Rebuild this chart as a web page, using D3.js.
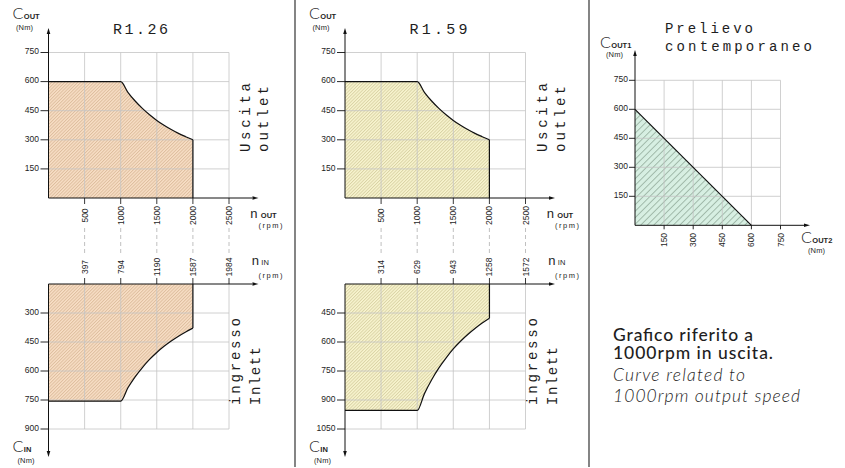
<!DOCTYPE html>
<html lang="it">
<head>
<meta charset="UTF-8">
<title>Curve R1.26 / R1.59</title>
<script src="https://cdn.jsdelivr.net/npm/d3@7/dist/d3.min.js"></script>
<style>
	body {margin: 0; background: #fff;}
	svg text {fill: #1e1e1e;}
	.cad {font-family: 'Liberation Mono', monospace;}
	.num {font-family: 'Liberation Sans', Arial, sans-serif; font-size: 8.5px;}
	.lab {font-family: 'Liberation Sans', Arial, sans-serif;}
	.big {font-family: Lato, 'Open Sans', sans-serif;}
	.note {font-family: Lato, 'Open Sans', sans-serif; font-size: 17.5px;}
</style>
</head>
<body>
<script>
	//----dati----
	var ratioLabels = ['R1.26', 'R1.59'];
	var outSpeedTicks = [500, 1000, 1500, 2000, 2500];
	var outTorqueTicks = [150, 300, 450, 600, 750];
	var inSpeedTicksA = [397, 794, 1190, 1587, 1984];
	var inSpeedTicksB = [314, 629, 943, 1258, 1572];
	var inTorqueTicksA = [300, 450, 600, 750, 900];
	var inTorqueTicksB = [450, 600, 750, 900, 1050];

	// curva in uscita (uguale per i due rapporti)
	var outSpeed = [0, 1000, 1100, 1200, 1300, 1400, 1500, 1600, 1700, 1800, 1900, 2000];
	var outTorque = [600, 600, 545, 500, 462, 429, 400, 375, 353, 333, 316, 300];
	// curve in ingresso
	var inSpeedA = [0, 794, 873, 952, 1032, 1111, 1190, 1270, 1349, 1429, 1508, 1587];
	var inTorqueA = [756, 756, 687, 630, 582, 540, 504, 472, 445, 420, 398, 378];
	var inSpeedB = [0, 629, 692, 755, 818, 881, 943, 1006, 1069, 1132, 1195, 1258];
	var inTorqueB = [954, 954, 867, 795, 734, 682, 636, 596, 561, 530, 502, 477];

	// prelievo contemporaneo
	var simTicks = [150, 300, 450, 600, 750];
	var simOut2 = [0, 600];
	var simOut1 = [600, 0];

	var svg = d3.select('body').append('svg')
		.attr('width', 845)
		.attr('height', 468);

	var defs = svg.append('defs');
	function hatch(id, bg, col, p, w) {
		var pat = defs.append('pattern')
			.attr('id', id)
			.attr('patternUnits', 'userSpaceOnUse')
			.attr('width', p).attr('height', p)
			.attr('patternTransform', 'rotate(45)');
		pat.append('rect').attr('width', p).attr('height', p).attr('fill', bg);
		pat.append('line')
			.attr('x1', 0.5).attr('y1', 0).attr('x2', 0.5).attr('y2', p)
			.attr('stroke', col).attr('stroke-width', w);
	}
	hatch('hOr', '#f8dfc6', '#dbba99', 2.3, 0.85);
	hatch('hYe', '#f9f5d0', '#d6cf9f', 2.3, 0.85);
	hatch('hGr', '#d7efe2', '#93ad9c', 4.6, 0.8);

	var GRID = '#c4c4c4';

	//----separatori----
	[295, 589].forEach(function (sx) {
		svg.append('line')
			.attr('x1', sx).attr('x2', sx).attr('y1', 0).attr('y2', 467)
			.attr('stroke', '#333').attr('stroke-width', 1.2);
	});

	function arrowUp(g, x, tip) {
		g.append('path').attr('d', 'M' + x + ',' + tip + 'L' + (x - 1.8) + ',' + (tip + 6) + 'L' + (x + 1.8) + ',' + (tip + 6) + 'Z').attr('fill', '#111');
	}
	function arrowDown(g, x, tip) {
		g.append('path').attr('d', 'M' + x + ',' + tip + 'L' + (x - 1.8) + ',' + (tip - 6) + 'L' + (x + 1.8) + ',' + (tip - 6) + 'Z').attr('fill', '#111');
	}
	function arrowRight(g, tip, y) {
		g.append('path').attr('d', 'M' + tip + ',' + y + 'L' + (tip - 6) + ',' + (y - 1.8) + 'L' + (tip - 6) + ',' + (y + 1.8) + 'Z').attr('fill', '#111');
	}
	function line(g, x1, y1, x2, y2, col, w) {
		return g.append('line')
			.attr('x1', x1).attr('y1', y1).attr('x2', x2).attr('y2', y2)
			.attr('stroke', col).attr('stroke-width', w || 1);
	}
	function symbol(g, x, y, main, sub) {
		var t = g.append('text').attr('x', x).attr('y', y);
		t.append('tspan').attr('class', 'big').attr('font-size', 16).attr('font-weight', 300).text(main);
		t.append('tspan').attr('class', 'lab').attr('font-size', 7.5).attr('font-weight', 'bold').attr('dx', 0.5).text(sub);
	}
	function small(g, x, y, str, len) {
		g.append('text').attr('class', 'lab').attr('x', x).attr('y', y)
			.attr('font-size', 7.5).attr('textLength', len).attr('lengthAdjust', 'spacing').text(str);
	}
	function vtext(g, x, y, str, len) {
		g.append('text').attr('class', 'cad')
			.attr('transform', 'translate(' + x + ',' + y + ') rotate(-90)')
			.attr('font-size', 14)
			.attr('textLength', len).attr('lengthAdjust', 'spacing')
			.text(str);
	}

	//----pannello rapporto----
	function panel(cfg) {
		var g = svg.append('g');
		var x0 = cfg.x0;
		var x = d3.scaleLinear().domain([0, 2500]).range([x0, x0 + 180.5]);
		var y = d3.scaleLinear().domain([0, 750]).range([198, 52.5]);
		var xi = d3.scaleLinear().domain([0, d3.max(cfg.inTicks)]).range(x.range());
		var yi = d3.scaleLinear()
			.domain([cfg.inTorqueTicks[0] - 150, d3.max(cfg.inTorqueTicks)])
			.range([284, 429]);

		var outPts = outSpeed.map(function (d, i) { return [d, outTorque[i]]; });
		var inPts = cfg.inSpeed.map(function (d, i) { return [d, cfg.inTorque[i]]; });

		// aree
		g.append('path')
			.datum(outPts)
			.attr('fill', 'url(#' + cfg.pattern + ')')
			.attr('d', d3.area()
				.x(function (d) { return x(d[0]); })
				.y0(y(0))
				.y1(function (d) { return y(d[1]); })
				.curve(d3.curveMonotoneX));
		g.append('path')
			.datum(inPts)
			.attr('fill', 'url(#' + cfg.pattern + ')')
			.attr('d', d3.area()
				.x(function (d) { return xi(d[0]); })
				.y0(yi.range()[0])
				.y1(function (d) { return yi(d[1]); })
				.curve(d3.curveMonotoneX));

		// griglia
		outSpeedTicks.forEach(function (v) { line(g, x(v), y(0), x(v), y(750), GRID, 0.8); });
		outTorqueTicks.forEach(function (v) { line(g, x(0), y(v), x(2500), y(v), GRID, 0.8); });
		cfg.inTicks.forEach(function (v) { line(g, xi(v), 284, xi(v), 429, GRID, 0.8); });
		cfg.inTorqueTicks.forEach(function (v) { line(g, x(0), yi(v), x(2500), yi(v), GRID, 0.8); });

		// linee tratteggiate di raccordo
		outSpeedTicks.forEach(function (v) {
			line(g, x(v), 228, x(v), 256, '#b0b0b0', 0.8).attr('stroke-dasharray', '4,3');
			line(g, x(v), 198, x(v), 204, '#222', 0.9);
		});
		cfg.inTicks.forEach(function (v) { line(g, xi(v), 278, xi(v), 284, '#222', 0.9); });

		// contorni curve
		var lo = d3.line()
			.x(function (d) { return x(d[0]); })
			.y(function (d) { return y(d[1]); })
			.curve(d3.curveMonotoneX);
		g.append('path').datum(outPts).attr('d', lo).attr('fill', 'none').attr('stroke', '#111').attr('stroke-width', 1.2);
		var last = outPts[outPts.length - 1];
		line(g, x(last[0]), y(last[1]), x(last[0]), y(0), '#111', 1.2);

		var li = d3.line()
			.x(function (d) { return xi(d[0]); })
			.y(function (d) { return yi(d[1]); })
			.curve(d3.curveMonotoneX);
		g.append('path').datum(inPts).attr('d', li).attr('fill', 'none').attr('stroke', '#111').attr('stroke-width', 1.2);
		var lastI = inPts[inPts.length - 1];
		line(g, xi(lastI[0]), 284, xi(lastI[0]), yi(lastI[1]), '#111', 1.2);

		// assi
		line(g, x0, 34, x0, 198, '#111', 1);
		arrowUp(g, x0, 28);
		line(g, x0, 198, x0 + 204, 198, '#111', 1);
		arrowRight(g, x0 + 210, 198);
		line(g, x0, 284, x0 + 204, 284, '#111', 1);
		arrowRight(g, x0 + 210, 284);
		line(g, x0, 284, x0, 451, '#111', 1);
		arrowDown(g, x0, 457);

		// etichette y
		outTorqueTicks.forEach(function (v) {
			line(g, x0 - 8, y(v), x0, y(v), '#111', 0.9);
			g.append('text').attr('class', 'num').attr('x', x0 - 9.5).attr('y', y(v) + 1.8)
				.attr('text-anchor', 'end').text(v);
		});
		cfg.inTorqueTicks.forEach(function (v) {
			line(g, x0 - 8, yi(v), x0, yi(v), '#111', 0.9);
			g.append('text').attr('class', 'num').attr('x', x0 - 9.5).attr('y', yi(v) + 1.8)
				.attr('text-anchor', 'end').text(v);
		});
		// etichette x ruotate
		outSpeedTicks.forEach(function (v) {
			g.append('text').attr('class', 'num')
				.attr('transform', 'translate(' + (x(v) + 3) + ',215.5) rotate(-90)')
				.attr('text-anchor', 'middle').text(v);
		});
		cfg.inTicks.forEach(function (v) {
			g.append('text').attr('class', 'num')
				.attr('transform', 'translate(' + (xi(v) + 3) + ',267) rotate(-90)')
				.attr('text-anchor', 'middle').text(v);
		});

		// titoli e simboli
		g.append('text').attr('class', 'cad').attr('x', x0 + 64.5).attr('y', 34.3)
			.attr('font-size', 15).attr('textLength', cfg.titleLen).attr('lengthAdjust', 'spacing')
			.text(cfg.title);
		vtext(g, x0 + 201.5, 152, 'Uscita', 69);
		vtext(g, x0 + 219.5, 152, 'outlet', 66);
		vtext(g, x0 + 191.5, 405, 'ingresso', 87);
		vtext(g, x0 + 211.5, 405, 'Inlett', 58);

		symbol(g, x0 - 36, 19, 'C', 'OUT');
		small(g, x0 - 32.5, 30, '(Nm)', 17);
		symbol(g, x0 - 36, 452, 'C', 'IN');
		small(g, x0 - 31, 463, '(Nm)', 17);

		var n1 = g.append('text').attr('class', 'cad').attr('x', x0 + 201.5).attr('y', 217.5);
		n1.append('tspan').attr('font-size', 13).text('n');
		n1.append('tspan').attr('class', 'lab').attr('font-size', 7.5).attr('font-weight', 'bold').attr('dx', 3).text('OUT');
		small(g, x0 + 210, 227.5, '(rpm)', 24);
		var n2 = g.append('text').attr('class', 'cad').attr('x', x0 + 203).attr('y', 265);
		n2.append('tspan').attr('font-size', 13).text('n');
		n2.append('tspan').attr('class', 'lab').attr('font-size', 7.5).attr('dx', 2).text('IN');
		small(g, x0 + 210, 277.5, '(rpm)', 24);
	}

	panel({x0: 48.5, title: ratioLabels[0], titleLen: 55, pattern: 'hOr',
		inTicks: inSpeedTicksA, inTorqueTicks: inTorqueTicksA, inSpeed: inSpeedA, inTorque: inTorqueA});
	panel({x0: 345, title: ratioLabels[1], titleLen: 58, pattern: 'hYe',
		inTicks: inSpeedTicksB, inTorqueTicks: inTorqueTicksB, inSpeed: inSpeedB, inTorque: inTorqueB});

	//----prelievo contemporaneo----
	var gs = svg.append('g');
	var sx = d3.scaleLinear().domain([0, 750]).range([635, 780.5]);
	var sy = d3.scaleLinear().domain([0, 750]).range([225.3, 80.3]);
	var tri = simOut2.map(function (d, i) { return [d, simOut1[i]]; });

	gs.append('path')
		.datum([[0, 0]].concat(tri))
		.attr('fill', 'url(#hGr)')
		.attr('d', d3.line().x(function (d) { return sx(d[0]); }).y(function (d) { return sy(d[1]); }));
	simTicks.forEach(function (v) {
		line(gs, sx(v), sy(0), sx(v), sy(750), GRID, 0.8);
		line(gs, sx(0), sy(v), sx(750), sy(v), GRID, 0.8);
	});
	gs.append('path').datum(tri)
		.attr('d', d3.line().x(function (d) { return sx(d[0]); }).y(function (d) { return sy(d[1]); }))
		.attr('stroke', '#111').attr('stroke-width', 1.2).attr('fill', 'none');

	line(gs, 635, 56, 635, sy(0), '#111', 1);
	arrowUp(gs, 635, 50);
	line(gs, 635, sy(0), 804, sy(0), '#111', 1);
	arrowRight(gs, 810, sy(0));

	simTicks.forEach(function (v) {
		line(gs, 629, sy(v), 635, sy(v), '#111', 0.9);
		gs.append('text').attr('class', 'num').attr('x', 628).attr('y', sy(v) + 1.8)
			.attr('text-anchor', 'end').text(v);
		line(gs, sx(v), sy(0), sx(v), sy(0) + 4, '#111', 0.9);
		gs.append('text').attr('class', 'num')
			.attr('transform', 'translate(' + (sx(v) + 3) + ',240) rotate(-90)')
			.attr('text-anchor', 'middle').text(v);
	});

	gs.append('text').attr('class', 'cad').attr('x', 665).attr('y', 33)
		.attr('font-size', 14).attr('textLength', 88).attr('lengthAdjust', 'spacing').text('Prelievo');
	gs.append('text').attr('class', 'cad').attr('x', 665).attr('y', 51)
		.attr('font-size', 14).attr('textLength', 147).attr('lengthAdjust', 'spacing').text('contemporaneo');

	symbol(gs, 600, 48, 'C', 'OUT1');
	small(gs, 606, 57, '(Nm)', 17);
	symbol(gs, 801, 243, 'C', 'OUT2');
	small(gs, 808, 253, '(Nm)', 17);

	//----nota----
	var notes = [
		{t: 'Grafico riferito a', y: 341, it: false, w: 140},
		{t: '1000rpm in uscita.', y: 359, it: false, w: 160},
		{t: 'Curve related to', y: 381, it: true, w: 132},
		{t: '1000rpm output speed', y: 401.5, it: true, w: 187}
	];
	svg.selectAll('text.note').data(notes).enter().append('text')
		.attr('class', 'note')
		.attr('x', 613)
		.attr('y', function (d) { return d.y; })
		.attr('textLength', function (d) { return d.w; })
		.attr('lengthAdjust', 'spacing')
		.attr('font-style', function (d) { return d.it ? 'italic' : 'normal'; })
		.attr('font-weight', function (d) { return d.it ? 300 : 500; })
		.text(function (d) { return d.t; });
</script>
</body>
</html>
